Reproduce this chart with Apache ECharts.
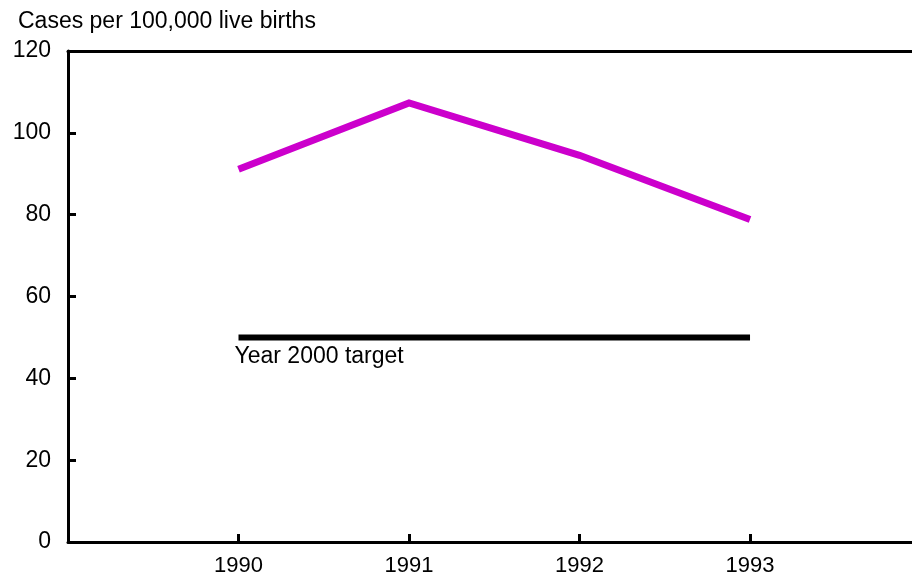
<!DOCTYPE html>
<html>
<head>
<meta charset="utf-8">
<script src="https://cdn.jsdelivr.net/npm/echarts@6/dist/echarts.min.js"></script>
<style>
  html, body { margin: 0; padding: 0; background: #fff; }
  #chart { width: 912px; height: 577px; }
</style>
</head>
<body>
<div id="chart"></div>
<script>
// data
const years = [1990, 1991, 1992, 1993];
const cases = [91.1, 107.3, 94.5, 78.8];
const targetYears = [1990, 1993];
const targetValue = 50;
const yTicks = [0, 20, 40, 60, 80, 100, 120];

const font = 'Liberation Sans, Arial, sans-serif';
let chart = echarts.init(document.getElementById('chart'));

chart.setOption({
  animation: false,
  title: {
    text: 'Cases per 100,000 live births',
    left: 13,
    top: 5,
    textStyle: { fontFamily: font, fontSize: 23, fontWeight: 'normal', color: '#000' }
  },
  grid: { left: 68, right: 0, top: 51, bottom: 35 },
  xAxis: [{
    type: 'value',
    min: 1989,
    max: 1993.95,
    interval: 1,
    splitLine: { show: false },
    axisLine: { lineStyle: { color: '#000', width: 3 } },
    axisTick: { inside: true, length: 8, lineStyle: { color: '#000', width: 3 } },
    axisLabel: {
      margin: 13,
      color: '#000',
      fontFamily: font,
      fontSize: 22,
      showMinLabel: false,
      showMaxLabel: false,
      formatter: v => (years.indexOf(v) >= 0 ? String(v) : '')
    }
  }, {
    type: 'value',
    position: 'top',
    min: 1989,
    max: 1993.95,
    axisLine: { lineStyle: { color: '#000', width: 3 } },
    axisTick: { show: false },
    axisLabel: { show: false },
    splitLine: { show: false }
  }],
  yAxis: {
    type: 'value',
    min: 0,
    max: 120,
    interval: 20,
    splitLine: { show: false },
    axisLine: { show: true, lineStyle: { color: '#000', width: 3 } },
    axisTick: { show: true, inside: true, length: 8, lineStyle: { color: '#000', width: 3 } },
    axisLabel: {
      margin: 17,
      color: '#000',
      fontFamily: font,
      fontSize: 23,
      formatter: v => (yTicks.indexOf(v) >= 0 ? String(v) : '')
    }
  },
  series: [{
    type: 'line',
    data: years.map((y, i) => [y, cases[i]]),
    symbol: 'none',
    lineStyle: { color: '#CC00CC', width: 7, cap: 'butt', join: 'miter' }
  }, {
    type: 'line',
    data: targetYears.map(y => [y, targetValue]),
    symbol: 'none',
    lineStyle: { color: '#000', width: 6, cap: 'butt' }
  }, {
    type: 'scatter',
    data: [[targetYears[0], targetValue]],
    symbolSize: 0,
    itemStyle: { color: '#000', opacity: 1 },
    label: {
      show: true,
      position: 'bottom',
      align: 'left',
      distance: 8,
      offset: [-4, 0],
      formatter: 'Year 2000 target',
      color: '#000',
      opacity: 1,
      textBorderWidth: 0,
      fontFamily: font,
      fontSize: 23
    }
  }]
});
</script>
</body>
</html>
